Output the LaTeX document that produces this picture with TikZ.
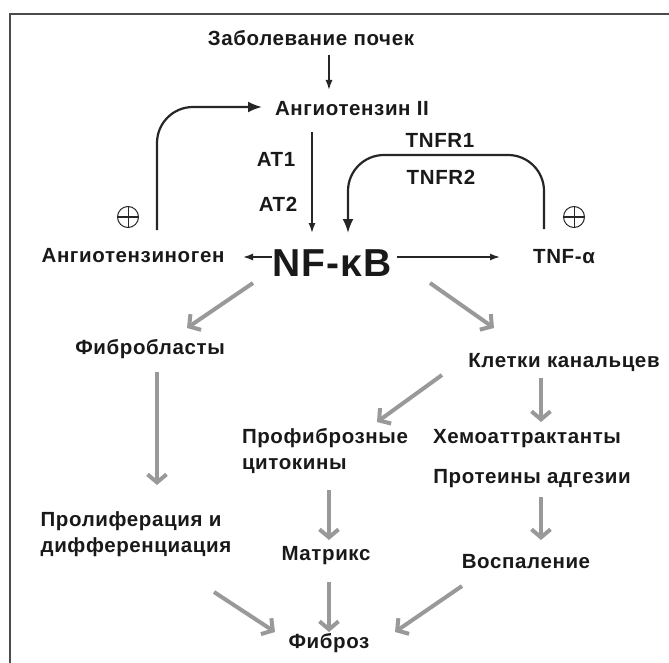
\documentclass[tikz,border=0pt]{standalone}
\usepackage{fontspec}
\setmainfont{Liberation Sans}[LetterSpace=3]
\usepackage{tikz}
\usetikzlibrary{
	arrows.meta,
	calc,
	positioning,
}
\definecolor{arrowgray}{gray}{0.6}
\tikzset{default node/.style={inner sep=0pt,font=\bfseries\fontsize{20.5}{26}\selectfont,text=black!90,}}
\tikzset{big node/.style={default node,font=\bfseries\fontsize{39}{40}\selectfont,}}
\tikzset{plus node/.style={draw=black!85,circle,line width=1pt,minimum size=21pt,inner sep=0pt,
	path picture={\draw[black!85,line width=1pt] (path picture bounding box.north) -- (path picture bounding box.south) (path picture bounding box.west) -- (path picture bounding box.east);},}}
\tikzset{thin/.style={black!85,line width=1.5pt,-{Latex[length=10pt,width=7pt]}}}
\tikzset{loop/.style={black!85,line width=2.2pt,rounded corners=36pt,-{Latex[length=14pt,width=11pt]}}}
\tikzset{g/.style={arrowgray,line width=4pt,-{Straight Barb[length=8pt,width=19pt]}}}
\tikzset{frame/.style={black!70,line width=1.5pt}}
\tikzset{
	x=1pt,
	y=-1pt,
}

\begin{document}
\begin{tikzpicture}[every node/.style={default node}]
\useasboundingbox (0,0) rectangle (669,663);
\draw[frame] (10,663) -- (10,14) -- (669,14);

\node(1) at(311,38) {Заболевание почек};
\node(2) at(352,109) {Ангиотензин II};
\node(at1) at(276,159) {AT1};
\node(at2) at(278,204) {AT2};
\node(r1) at(440,140) {TNFR1};
\node(r2) at(441,177) {TNFR2};
\node[plus node](p1) at(128,217) {};
\node[plus node](p2) at(574,217) {};

\node(4) at(133,256) {Ангиотензиноген};
\node[big node](5) at(332,263) {NF-κB};
\node(6) at(564,257) {TNF-α};

\node(7) at(150,349) {Фибробласты};
\node(8) at(564,362) {Клетки канальцев};
\node[align=left](9) at(136,534) {Пролиферация и\\дифференциация};
\node[align=left](10) at(325,451) {Профиброзные\\цитокины};
\node(11) at(527,439) {Хемоаттрактанты};
\node(12) at(532,479) {Протеины адгезии};
\node(13) at(326,556) {Матрикс};
\node(14) at(526,562) {Воспаление};
\node(15) at(329,643) {Фиброз};

\draw[thin] ([xshift=18,yshift=-17]1.center) -- ([xshift=-23,yshift=19]2.center);
\draw[thin] ([xshift=-40,yshift=-23]2.center) -- ([xshift=-20,yshift=30]5.center);
\draw[thin] ([xshift=-60,yshift=6]5.center) -- ([xshift=110,yshift=-1]4.center);
\draw[thin] ([xshift=65,yshift=6]5.center) -- ([xshift=-64]6.center);
\draw[loop] ([xshift=24,yshift=26]4.center) |- ([xshift=-90,yshift=2]2.center);
\draw[loop] ([xshift=-20,yshift=28]6.center) -- ++(0,-74) -| ([xshift=16,yshift=30]5.center);

\draw[g] ([xshift=-79,yshift=-20]5.center) -- ([xshift=37,yshift=21]7.center);
\draw[g] ([xshift=98,yshift=-20]5.center) -- ([xshift=-70,yshift=34]8.center);
\draw[g] ([xshift=7,yshift=-23]7.center) -- ([xshift=21,yshift=49]9.center);
\draw[g] ([xshift=-122,yshift=-13]8.center) -- ([xshift=52,yshift=29]10.center);
\draw[g] ([xshift=-23,yshift=-16]8.center) -- ([xshift=14,yshift=17]11.center);
\draw[g] ([xshift=4,yshift=-39]10.center) -- ([xshift=3,yshift=16]13.center);
\draw[g] ([xshift=9,yshift=-18]12.center) -- ([xshift=15,yshift=22]14.center);
\draw[g] ([xshift=78,yshift=-58]9.center) -- ([xshift=-54,yshift=11]15.center);
\draw[g] ([xshift=3,yshift=-26]13.center) -- ([yshift=11]15.center);
\draw[g] ([xshift=-64,yshift=-24]14.center) -- ([xshift=66,yshift=11]15.center);

\end{tikzpicture}
\end{document}
